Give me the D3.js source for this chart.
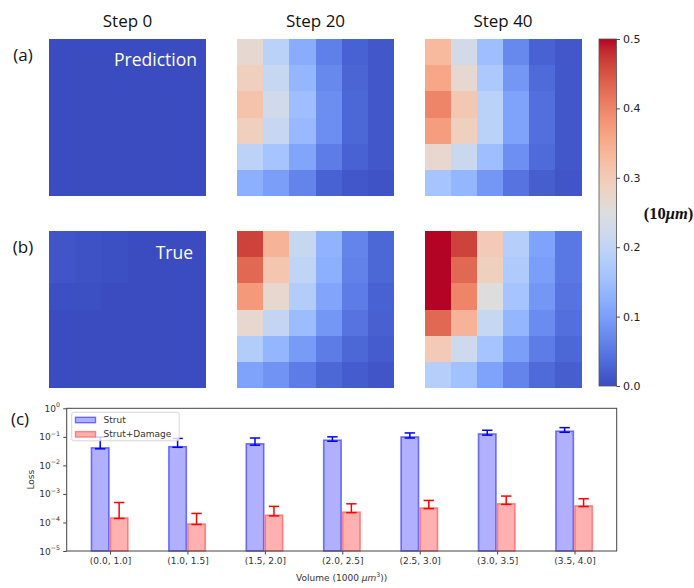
<!DOCTYPE html>
<html>
<head>
<meta charset="utf-8">
<script src="https://cdn.jsdelivr.net/npm/d3@7"></script>
<style>
html,body{margin:0;padding:0;background:#fff;}
svg{display:block;}
</style>
</head>
<body>
<svg id="chart" width="694" height="588"></svg>
<script>
// ---------------- DATA ----------------
const stepTitles = ["Step 0", "Step 20", "Step 40"];
const rowLabels = ["(a)", "(b)"];
const rowNames = ["Prediction", "True"];

// 6x6 displacement fields (unit: 10 µm), rows top->bottom, cols left->right
const predStep0 = [
  [0.0,0.0,0.0,0.0,0.0,0.0],
  [0.0,0.0,0.0,0.0,0.0,0.0],
  [0.0,0.0,0.0,0.0,0.0,0.0],
  [0.0,0.0,0.0,0.0,0.0,0.0],
  [0.0,0.0,0.0,0.0,0.0,0.0],
  [0.0,0.0,0.0,0.0,0.0,0.0]
];
const predStep20 = [
  [0.265,0.190,0.120,0.060,0.025,0.012],
  [0.290,0.210,0.135,0.070,0.028,0.012],
  [0.315,0.225,0.150,0.078,0.030,0.012],
  [0.290,0.212,0.140,0.078,0.030,0.012],
  [0.195,0.160,0.110,0.055,0.025,0.012],
  [0.125,0.100,0.065,0.025,0.012,0.008]
];
const predStep40 = [
  [0.330,0.230,0.150,0.070,0.025,0.012],
  [0.360,0.265,0.170,0.090,0.035,0.012],
  [0.400,0.305,0.190,0.105,0.040,0.012],
  [0.370,0.290,0.190,0.105,0.040,0.012],
  [0.270,0.215,0.150,0.080,0.035,0.012],
  [0.160,0.135,0.090,0.045,0.020,0.010]
];
const trueStep0 = [
  [0.010,0.006,0.004,0.0,0.0,0.0],
  [0.010,0.006,0.004,0.0,0.0,0.0],
  [0.004,0.004,0.0,0.0,0.0,0.0],
  [0.0,0.0,0.0,0.0,0.0,0.0],
  [0.0,0.0,0.0,0.0,0.0,0.0],
  [0.0,0.0,0.0,0.0,0.0,0.0]
];
const trueStep20 = [
  [0.465,0.340,0.210,0.130,0.065,0.030],
  [0.430,0.310,0.200,0.125,0.062,0.030],
  [0.375,0.270,0.180,0.110,0.055,0.025],
  [0.270,0.205,0.145,0.090,0.045,0.022],
  [0.180,0.135,0.095,0.055,0.030,0.018],
  [0.105,0.085,0.055,0.030,0.018,0.010]
];
const trueStep40 = [
  [0.500,0.465,0.300,0.185,0.105,0.050],
  [0.500,0.430,0.290,0.175,0.100,0.050],
  [0.500,0.400,0.250,0.160,0.090,0.045],
  [0.430,0.340,0.210,0.135,0.075,0.040],
  [0.300,0.220,0.160,0.100,0.055,0.030],
  [0.185,0.155,0.105,0.065,0.035,0.020]
];
const panelData = [
  [predStep0, predStep20, predStep40],
  [trueStep0, trueStep20, trueStep40]
];
const colorbarTicks = [0.0, 0.1, 0.2, 0.3, 0.4, 0.5];

// matplotlib "coolwarm" control colours (Moreland diverging map)
const coolwarm = [
  [59,76,192],[68,90,204],[77,104,215],[87,117,225],[98,130,234],[108,142,241],
  [119,154,247],[130,165,251],[141,176,254],[152,185,255],[163,194,255],[174,201,253],
  [184,208,249],[194,213,244],[204,217,238],[213,219,230],[221,221,221],[229,216,209],
  [236,211,197],[241,204,185],[245,196,173],[247,187,160],[247,177,148],[247,166,135],
  [244,154,123],[241,141,111],[236,127,99],[229,112,88],[222,96,77],[213,80,66],
  [203,62,56],[192,40,47],[180,4,38]
];

// Bar chart (c)
const volumeBins = ["(0.0, 1.0]","(1.0, 1.5]","(1.5, 2.0]","(2.0, 2.5]","(2.5, 3.0]","(3.0, 3.5]","(3.5, 4.0]"];
const strutLoss     = [0.041, 0.045, 0.057, 0.076, 0.099, 0.126, 0.157];
const strutLow      = [0.038, 0.043, 0.051, 0.070, 0.091, 0.115, 0.145];
const strutHigh     = [0.098, 0.088, 0.091, 0.100, 0.137, 0.170, 0.210];
const damageLoss    = [1.43e-4, 8.8e-5, 1.78e-4, 2.3e-4, 3.2e-4, 4.5e-4, 3.8e-4];
const damageLow     = [1.38e-4, 8.5e-5, 1.70e-4, 2.2e-4, 3.05e-4, 4.3e-4, 3.6e-4];
const damageHigh    = [5.0e-4, 2.07e-4, 3.66e-4, 4.5e-4, 5.9e-4, 8.4e-4, 6.8e-4];
const seriesNames = ["Strut", "Strut+Damage"];
const lossTicks = [1e-5, 1e-4, 1e-3, 1e-2, 1e-1, 1e0];
const lossTickExp = ["−5","−4","−3","−2","−1","0"];

// ---------------- DRAW ----------------
const svg = d3.select("#chart");
const titleFont = "'Open Sans', 'Noto Sans', sans-serif";
const mplFont = "'DejaVu Sans', sans-serif";

const color = d3.scaleLinear()
  .domain(coolwarm.map((c, i) => i / (coolwarm.length - 1) * 0.5))
  .range(coolwarm.map(c => `rgb(${c[0]},${c[1]},${c[2]})`))
  .interpolate(d3.interpolateRgb)
  .clamp(true);

// panel layout
const panelSize = 157;
const panelX = d3.scaleOrdinal().domain([0,1,2]).range([49, 237, 424.5]);
const panelY = d3.scaleOrdinal().domain([0,1]).range([39, 231]);

stepTitles.forEach((t, j) => {
  svg.append("text")
    .attr("x", panelX(j) + panelSize / 2)
    .attr("y", 20)
    .attr("text-anchor", "middle")
    .attr("dominant-baseline", "central")
    .attr("font-family", titleFont)
    .attr("font-size", 17)
    .attr("fill", "#111")
    .text(t);
});

rowLabels.forEach((t, r) => {
  svg.append("text")
    .attr("x", 23)
    .attr("y", panelY(r) + 15)
    .attr("text-anchor", "middle")
    .attr("dominant-baseline", "central")
    .attr("font-family", titleFont)
    .attr("font-size", 17)
    .attr("fill", "#111")
    .text(t);
});

panelData.forEach((row, r) => {
  row.forEach((grid, j) => {
    const x = d3.scaleBand().domain(d3.range(6)).range([panelX(j), panelX(j) + panelSize]);
    const y = d3.scaleBand().domain(d3.range(6)).range([panelY(r), panelY(r) + panelSize]);
    const g = svg.append("g");
    const cells = [];
    grid.forEach((vals, ri) => vals.forEach((v, ci) => cells.push({ri, ci, v})));
    g.selectAll("rect").data(cells).join("rect")
      .attr("x", d => Math.round(x(d.ci)))
      .attr("y", d => Math.round(y(d.ri)))
      .attr("width", d => Math.round(x(d.ci) + x.bandwidth()) - Math.round(x(d.ci)))
      .attr("height", d => Math.round(y(d.ri) + y.bandwidth()) - Math.round(y(d.ri)))
      .attr("shape-rendering", "crispEdges")
      .attr("fill", d => color(d.v));
  });
});

// panel labels in step 0 panels
[["Prediction", 0, 197, 59], ["True", 1, 193, 252]].forEach(([t, r, xr, yc]) => {
  svg.append("text")
    .attr("x", xr)
    .attr("y", yc)
    .attr("text-anchor", "end")
    .attr("dominant-baseline", "central")
    .attr("font-family", titleFont)
    .attr("font-size", 17.5)
    .attr("fill", "#ffffff")
    .text(t);
});

// colorbar
const cbX = 599, cbW = 17.5, cbTop = 39, cbBot = 386;
const cbScale = d3.scaleLinear().domain([0, 0.5]).range([cbBot, cbTop]);
const defs = svg.append("defs");
const grad = defs.append("linearGradient").attr("id", "cbgrad")
  .attr("x1", 0).attr("y1", 1).attr("x2", 0).attr("y2", 0);
coolwarm.forEach((c, i) => {
  grad.append("stop")
    .attr("offset", i / (coolwarm.length - 1))
    .attr("stop-color", `rgb(${c[0]},${c[1]},${c[2]})`);
});
svg.append("rect")
  .attr("x", cbX).attr("y", cbTop).attr("width", cbW).attr("height", cbBot - cbTop)
  .attr("fill", "url(#cbgrad)")
  .attr("stroke", "#555").attr("stroke-width", 0.8);
const cbAxis = d3.axisRight(cbScale).tickValues(colorbarTicks).tickFormat(d3.format(".1f")).tickSize(3.5).tickPadding(3);
const cbG = svg.append("g").attr("transform", `translate(${cbX + cbW},0)`).call(cbAxis);
cbG.select(".domain").remove();
cbG.selectAll("text").attr("font-family", mplFont).attr("font-size", 11).attr("fill", "#222");
cbG.selectAll("line").attr("stroke", "#222").attr("stroke-width", 0.8);

const cbLabel = svg.append("text")
  .attr("x", 668.5)
  .attr("y", (cbTop + cbBot) / 2)
  .attr("text-anchor", "middle")
  .attr("dominant-baseline", "central")
  .attr("font-family", "'Liberation Serif', 'DejaVu Serif', serif")
  .attr("font-weight", "bold")
  .attr("font-size", 16.5)
  .attr("fill", "#111");
cbLabel.append("tspan").text("(10");
cbLabel.append("tspan").attr("font-style", "italic").text("μm");
cbLabel.append("tspan").text(")");

// ---------------- bar chart ----------------
const axL = 66.7, axR = 616.7, axT = 408.3, axB = 551;
const xb = d3.scaleLinear().domain([-0.56, 6.545]).range([axL, axR]);
const yb = d3.scaleLog().domain([1e-5, 1]).range([axB, axT]);

svg.append("text")
  .attr("x", 20).attr("y", 418)
  .attr("text-anchor", "middle").attr("dominant-baseline", "central")
  .attr("font-family", titleFont).attr("font-size", 17).attr("fill", "#111")
  .text("(c)");

const bw = 0.225;
const series = [
  {name: seriesNames[0], vals: strutLoss, lo: strutLow, hi: strutHigh, off: -0.24,
   fill: "rgb(176,176,255)", stroke: "rgba(70,70,255,0.75)", err: "#0000ff"},
  {name: seriesNames[1], vals: damageLoss, lo: damageLow, hi: damageHigh, off: 0.005,
   fill: "rgb(255,176,176)", stroke: "rgba(255,90,90,0.7)", err: "#ff0000"}
];

series.forEach(s => {
  const g = svg.append("g");
  g.selectAll("rect").data(s.vals).join("rect")
    .attr("x", (d, i) => xb(i + s.off))
    .attr("width", (d, i) => xb(i + s.off + bw) - xb(i + s.off))
    .attr("y", d => yb(d))
    .attr("height", d => axB - yb(d))
    .attr("fill", s.fill)
    .attr("stroke", s.stroke)
    .attr("stroke-width", 1.6);
});

series.forEach(s => {
  const g = svg.append("g");
  s.vals.forEach((d, i) => {
    const cx = xb(i + s.off + bw / 2);
    const y1 = yb(s.lo[i]), y2 = yb(s.hi[i]);
    g.append("line").attr("x1", cx).attr("x2", cx).attr("y1", y1).attr("y2", y2)
      .attr("stroke", s.err).attr("stroke-width", 1.5);
    [y1, y2].forEach(yy => {
      g.append("line").attr("x1", cx - 5.2).attr("x2", cx + 5.2).attr("y1", yy).attr("y2", yy)
        .attr("stroke", s.err).attr("stroke-width", 1.5);
    });
  });
});

// axes frame
svg.append("rect").attr("x", axL).attr("y", axT).attr("width", axR - axL).attr("height", axB - axT)
  .attr("fill", "none").attr("stroke", "#444").attr("stroke-width", 1);

// x axis
const xAxis = d3.axisBottom(xb).tickValues(d3.range(volumeBins.length))
  .tickFormat(i => volumeBins[i]).tickSize(3.5).tickPadding(3);
const xg = svg.append("g").attr("transform", `translate(0,${axB})`).call(xAxis);
xg.select(".domain").remove();
xg.selectAll("text").attr("font-family", mplFont).attr("font-size", 9).attr("fill", "#333");
xg.selectAll("line").attr("stroke", "#444");

// y axis
const yAxis = d3.axisLeft(yb).tickValues(lossTicks).tickFormat("").tickSize(3.5);
const yg = svg.append("g").attr("transform", `translate(${axL},0)`).call(yAxis);
yg.select(".domain").remove();
yg.selectAll("line").attr("stroke", "#444");
lossTicks.forEach((t, i) => {
  const tx = svg.append("text")
    .attr("x", 60).attr("y", yb(t) + 3.5)
    .attr("text-anchor", "end")
    .attr("font-family", mplFont).attr("font-size", 9).attr("fill", "#333");
  tx.append("tspan").text("10");
  tx.append("tspan").attr("dy", -4.5).attr("font-size", 6.3).text(lossTickExp[i]);
});

svg.append("text")
  .attr("transform", `translate(31,${(axT + axB) / 2}) rotate(-90)`)
  .attr("text-anchor", "middle").attr("dominant-baseline", "central")
  .attr("font-family", mplFont).attr("font-size", 9).attr("fill", "#333")
  .text("Loss");

const xl = svg.append("text")
  .attr("x", (axL + axR) / 2).attr("y", 581)
  .attr("text-anchor", "middle")
  .attr("font-family", mplFont).attr("font-size", 9).attr("fill", "#333");
xl.append("tspan").text("Volume (1000 ");
xl.append("tspan").attr("font-style", "italic").text("μm");
xl.append("tspan").attr("dy", -4).attr("font-size", 6.3).text("3");
xl.append("tspan").attr("dy", 4).text("))");

// legend
const lg = svg.append("g");
lg.append("rect").attr("x", 71.7).attr("y", 412.3).attr("width", 107.5).attr("height", 28.5).attr("rx", 2)
  .attr("fill", "rgba(255,255,255,0.8)").attr("stroke", "#ccc").attr("stroke-width", 0.8);
series.forEach((s, i) => {
  const yy = 420 + i * 14.3;
  lg.append("rect").attr("x", 75.5).attr("y", yy - 2.7).attr("width", 20).attr("height", 5.4)
    .attr("fill", s.fill).attr("stroke", s.stroke).attr("stroke-width", 1.4);
  lg.append("text").attr("x", 103.5).attr("y", yy).attr("dominant-baseline", "central")
    .attr("font-family", mplFont).attr("font-size", 9).attr("fill", "#333").text(s.name);
});
</script>
</body>
</html>
